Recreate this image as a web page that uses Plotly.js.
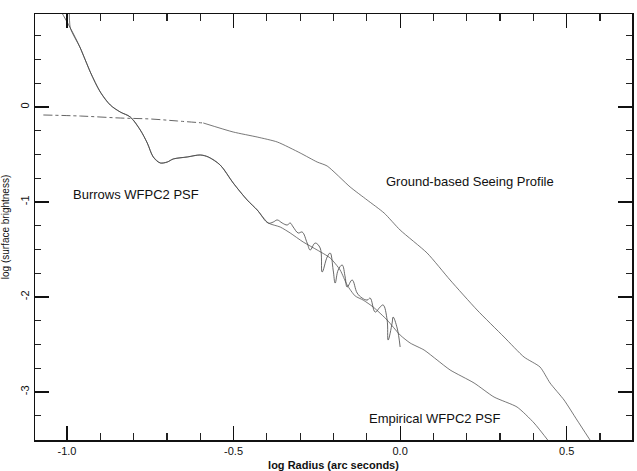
<!DOCTYPE html>
<html>
<head>
<meta charset="utf-8">
<script src="https://cdn.plot.ly/plotly-3.0.1.min.js"></script>
<style>html,body{margin:0;padding:0;background:#fff}#chart{width:637px;height:471px}</style>
</head>
<body>
<div id="chart"></div>
<script>
// Ground-based seeing profile
var groundX = [-1.071, -0.960, -0.840, -0.750, -0.669, -0.591, -0.501, -0.429, -0.369, -0.300, -0.249, -0.219, -0.150, -0.099, -0.048, 0.000, 0.081, 0.150, 0.231, 0.312, 0.372, 0.420, 0.450, 0.492, 0.531, 0.570];
var groundY = [-0.084, -0.095, -0.116, -0.126, -0.147, -0.168, -0.263, -0.316, -0.368, -0.484, -0.579, -0.621, -0.842, -0.979, -1.116, -1.295, -1.537, -1.821, -2.137, -2.421, -2.632, -2.737, -2.905, -3.084, -3.295, -3.505];
var groundDashedCount = 6;

// Shared inner part of both PSF curves
var innerX = [-0.990, -0.960, -0.930, -0.900, -0.870, -0.840, -0.810, -0.780, -0.759, -0.741, -0.720, -0.699, -0.681, -0.639, -0.600, -0.576, -0.540, -0.501, -0.459, -0.429, -0.396];
var innerY = [0.832, 0.621, 0.368, 0.158, 0.021, -0.053, -0.105, -0.242, -0.379, -0.526, -0.589, -0.579, -0.547, -0.526, -0.505, -0.526, -0.611, -0.800, -0.979, -1.084, -1.221];

// Burrows WFPC2 PSF (theoretical, oscillating outer part)
var burrowsStartX = [-1.020];
var burrowsStartY = [1.020];
var burrowsOuterX = [-0.381, -0.369, -0.354, -0.339, -0.330, -0.321, -0.306, -0.294, -0.279, -0.270, -0.255, -0.240, -0.234, -0.219, -0.210, -0.201, -0.195, -0.186, -0.174, -0.165, -0.159, -0.144, -0.129, -0.114, -0.099, -0.090, -0.075, -0.060, -0.051, -0.039, -0.036, -0.024, -0.021, -0.009, 0.000];
var burrowsOuterY = [-1.211, -1.189, -1.221, -1.242, -1.221, -1.263, -1.326, -1.316, -1.432, -1.505, -1.432, -1.484, -1.737, -1.579, -1.537, -1.716, -1.853, -1.716, -1.663, -1.789, -1.895, -1.821, -1.958, -2.011, -2.032, -2.011, -2.158, -2.105, -2.084, -2.242, -2.453, -2.274, -2.211, -2.326, -2.526];

// Empirical WFPC2 PSF
var empiricalStartX = [-0.993];
var empiricalStartY = [1.070];
var empiricalOuterX = [-0.360, -0.330, -0.291, -0.249, -0.210, -0.180, -0.159, -0.135, -0.111, -0.081, -0.039, 0.000, 0.030, 0.072, 0.111, 0.150, 0.222, 0.282, 0.351, 0.402, 0.450];
var empiricalOuterY = [-1.263, -1.326, -1.421, -1.505, -1.589, -1.716, -1.874, -1.989, -2.032, -2.105, -2.242, -2.400, -2.484, -2.558, -2.663, -2.768, -2.905, -3.053, -3.158, -3.326, -3.537];

// Tick labels
var xTickVals = [-1.0, -0.5, 0.0, 0.5];
var xTickText = ["-1.0", "-0.5", "0.0", "0.5"];
var yTickVals = [0, -1, -2, -3];
var yTickText = ["0", "-1", "-2", "-3"];

// Curve labels
var labelTexts = ["Burrows WFPC2 PSF", "Ground-based Seeing Profile", "Empirical WFPC2 PSF"];

var FONT = "Liberation Sans, Arial, Helvetica, sans-serif";
var X_RANGE = [-1.096, 0.696];
var Y_RANGE = [-3.505, 0.979];

var burrowsX = burrowsStartX.concat(innerX, burrowsOuterX);
var burrowsY = burrowsStartY.concat(innerY, burrowsOuterY);
var empiricalX = empiricalStartX.concat(innerX, empiricalOuterX);
var empiricalY = empiricalStartY.concat(innerY, empiricalOuterY);

var traces = [
  {x: groundX.slice(0, groundDashedCount), y: groundY.slice(0, groundDashedCount), mode: "lines",
   line: {color: "#666", width: 1, dash: "dashdot", shape: "spline"}, hoverinfo: "skip"},
  {x: groundX.slice(groundDashedCount - 1), y: groundY.slice(groundDashedCount - 1), mode: "lines",
   line: {color: "#555", width: 0.8, shape: "spline", smoothing: 0.6}, hoverinfo: "skip"},
  {x: empiricalX, y: empiricalY, mode: "lines",
   line: {color: "#555", width: 0.8, shape: "spline", smoothing: 0.6}, hoverinfo: "skip"},
  {x: burrowsX, y: burrowsY, mode: "lines",
   line: {color: "#444", width: 0.8, shape: "spline", smoothing: 1.1}, hoverinfo: "skip"}
];

function axisCommon() {
  return {
    ticks: "inside", tickwidth: 1.2, tickcolor: "#111",
    showgrid: false, zeroline: false,
    showline: true, linecolor: "#111", linewidth: 1.5, mirror: "allticks",
    tickfont: {family: FONT, size: 11, color: "#111"}
  };
}
var xa = axisCommon();
xa.range = X_RANGE; xa.tickmode = "array"; xa.tickvals = xTickVals; xa.ticktext = xTickText;
xa.ticklen = 14;
xa.minor = {tickmode: "linear", tick0: 0, dtick: 0.1, ticks: "inside", ticklen: 7, tickwidth: 1.2, tickcolor: "#222", showgrid: false};
xa.title = {text: "<b>log Radius (arc seconds)</b>", font: {family: FONT, size: 11, color: "#111"}, standoff: 6};

var ya = axisCommon();
ya.range = Y_RANGE; ya.tickmode = "array"; ya.tickvals = yTickVals; ya.ticktext = yTickText; ya.tickangle = -90;
ya.ticklen = 14;
ya.minor = {tickmode: "linear", tick0: 0, dtick: 0.25, ticks: "inside", ticklen: 6, tickwidth: 1.2, tickcolor: "#222", showgrid: false};
ya.title = {text: "log (surface brightness)", font: {family: FONT, size: 10, color: "#111"}, standoff: 8};

var layout = {
  width: 637, height: 471,
  margin: {l: 35, r: 5, t: 14, b: 31},
  paper_bgcolor: "#fff", plot_bgcolor: "#fff",
  showlegend: false,
  font: {family: FONT, color: "#111", size: 11},
  xaxis: xa,
  yaxis: ya,
  annotations: [
    {x: -0.792, y: -0.916, xref: "x", yref: "y", text: labelTexts[0], showarrow: false,
     font: {family: FONT, size: 13, color: "#111"}},
    {x: 0.21, y: -0.779, xref: "x", yref: "y", text: labelTexts[1], showarrow: false,
     font: {family: FONT, size: 13, color: "#111"}},
    {x: 0.105, y: -3.274, xref: "x", yref: "y", text: labelTexts[2], showarrow: false,
     font: {family: FONT, size: 13, color: "#111"}}
  ]
};

Plotly.newPlot("chart", traces, layout, {displayModeBar: false, staticPlot: true});
</script>
</body>
</html>
